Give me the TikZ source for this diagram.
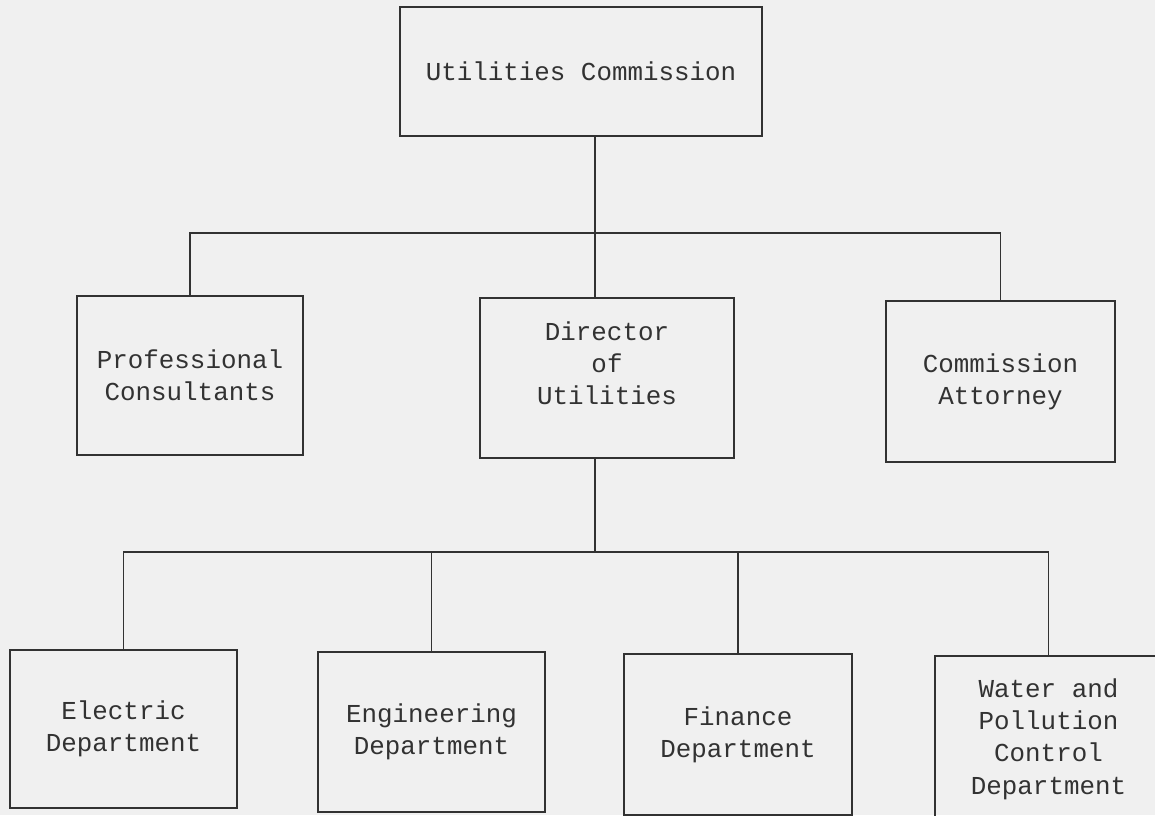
\documentclass[tikz,border=0pt]{standalone}
\usepackage{fontspec}
\setmonofont{Liberation Mono}
\usepackage{xcolor}
\usepackage{tikz}

\definecolor{nen}{RGB}{240,240,240}
\definecolor{muc}{RGB}{50,50,50}
\tikzset{
    hop/.style={draw=muc, line width=1pt, align=center, inner sep=0pt,
        text=muc, font=\ttfamily\fontsize{18.4}{23}\selectfont},
    noi/.style={draw=muc, line width=1pt}
}

\begin{document}
\begin{tikzpicture}
    % Khung và nền
    \useasboundingbox (0,0) rectangle (28.875,20.375);
    \fill[nen] (0,0) rectangle (28.875,20.375);
    \clip (0,0) rectangle (28.875,20.375);

    % Cấp trên cùng
    \node[hop, minimum width=9.05cm, minimum height=3.225cm] (uc) at (14.525,18.5875) {Utilities Commission};

    % Cấp thứ hai
    \node[hop, minimum width=5.65cm, minimum height=3.975cm] (pc) at (4.75,10.9875) {Professional\\Consultants};
    \node[hop, minimum width=6.35cm, minimum height=4cm, text depth=0.75cm] (du) at (15.175,10.925) {Director\\of\\Utilities};
    \node[hop, minimum width=5.725cm, minimum height=4.025cm] (ca) at (25.0125,10.8375) {Commission\\Attorney};

    % Các phòng ban
    \node[hop, minimum width=5.675cm, minimum height=3.95cm] (ed) at (3.0875,2.15) {Electric\\Department};
    \node[hop, minimum width=5.675cm, minimum height=4cm] (eg) at (10.7875,2.075) {Engineering\\Department};
    \node[hop, minimum width=5.7cm, minimum height=4.025cm] (fd) at (18.45,2.0125) {Finance\\Department};
    \node[hop, minimum width=5.675cm, minimum height=4.15cm] (wd) at (26.2125,1.9) {Water and\\Pollution\\Control\\Department};

    % Điểm nối
    \coordinate (j1) at (14.875,14.55);
    \coordinate (j2) at (14.875,6.575);

    % Đường nối
    \draw[noi] (uc.south -| j1) -- (j1);
    \draw[noi] (pc.north) |- (j1) -| (ca.north);
    \draw[noi] (j1) -- (j1 |- du.north);
    \draw[noi] (du.south -| j2) -- (j2);
    \draw[noi] (ed.north) |- (j2) -| (wd.north);
    \foreach \n in {eg,fd}
        \draw[noi] (j2 -| \n.north) -- (\n.north);
\end{tikzpicture}
\end{document}
